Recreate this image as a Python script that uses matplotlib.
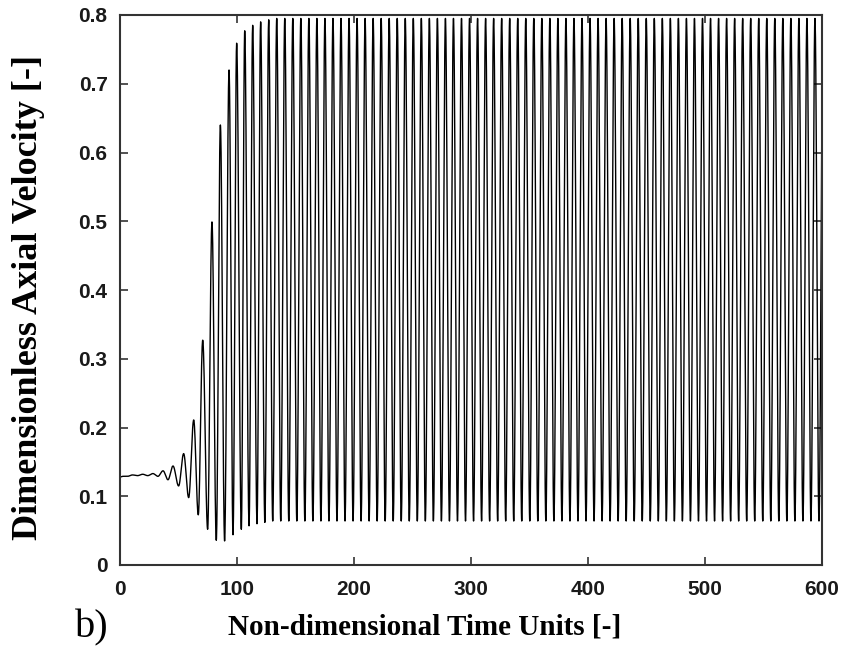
import numpy as np
import matplotlib
matplotlib.use("Agg")
import matplotlib.pyplot as plt

# ---- data ----
# early extrema (time, value) of the transient, alternating trough/peak
trough_t = [0.0, 6.4, 15.0, 23.7, 32.4, 41.0, 50.1, 58.7, 66.9, 74.9, 82.3, 89.4, 96.6, 103.7, 110.3, 117.1, 123.8]
trough_v = [0.128, 0.129, 0.130, 0.130, 0.129, 0.124, 0.115, 0.098, 0.073, 0.052, 0.036, 0.035, 0.044, 0.052, 0.057, 0.060, 0.062]
peak_t = [2.2, 10.7, 19.4, 28.1, 36.8, 45.3, 54.4, 63.0, 70.7, 78.6, 85.8, 93.2, 99.7, 106.6, 113.4, 120.2, 127.1]
peak_v = [0.129, 0.131, 0.132, 0.133, 0.137, 0.144, 0.162, 0.211, 0.327, 0.499, 0.640, 0.720, 0.759, 0.777, 0.785, 0.790, 0.793]
# limit cycle after the transient
sat_peak = 0.795
sat_trough = 0.064
sat_period = 6.866
t_end = 600.0

x_ticks = [0, 100, 200, 300, 400, 500, 600]
y_ticks = [0, 0.1, 0.2, 0.3, 0.4, 0.5, 0.6, 0.7, 0.8]

# ---- build the extrema sequence ----
ext_t, ext_v = [], []
for i in range(len(peak_t)):
    ext_t += [trough_t[i], peak_t[i]]
    ext_v += [trough_v[i], peak_v[i]]
t = peak_t[-1]
while True:
    t_tr = t + sat_period / 2
    if t_tr > t_end + sat_period:
        break
    ext_t.append(t_tr); ext_v.append(sat_trough)
    t = t + sat_period
    ext_t.append(t); ext_v.append(sat_peak)

tt, vv = [], []
for i in range(len(ext_t) - 1):
    s = np.linspace(0, 1, 24, endpoint=False)
    seg_t = ext_t[i] + (ext_t[i + 1] - ext_t[i]) * s
    seg_v = ext_v[i] + (ext_v[i + 1] - ext_v[i]) * (1 - np.cos(np.pi * s)) / 2
    tt.append(seg_t); vv.append(seg_v)
tt = np.concatenate(tt); vv = np.concatenate(vv)
mask = tt <= t_end
tt, vv = tt[mask], vv[mask]

# ---- plot ----
W, H = 843, 646
fig = plt.figure(figsize=(W / 100, H / 100), dpi=100)
ax = fig.add_axes([120 / W, 1 - 565 / H, (822 - 120) / W, (565 - 15) / H])
ax.plot(tt, vv, color="black", linewidth=1.0)
ax.set_xlim(0, 600)
ax.set_ylim(0, 0.8)
ax.set_xticks(x_ticks)
ax.set_yticks(y_ticks)
ax.set_xticklabels([str(v) for v in x_ticks])
ax.set_yticklabels([("%g" % v) for v in y_ticks])
ax.tick_params(direction="in", length=6, width=1.2, color="#333333",
               top=True, right=True, labelsize=15)
ax.tick_params(axis="x", pad=11)
ax.tick_params(axis="y", pad=9)
for lab in ax.get_xticklabels() + ax.get_yticklabels():
    lab.set_fontfamily("Liberation Sans")
    lab.set_fontweight("bold")
    lab.set_color("#1a1a1a")
for sp in ax.spines.values():
    sp.set_linewidth(1.5)
    sp.set_color("#333333")

fig.text(425 / W, 1 - 627 / H, "Non-dimensional Time Units [-]",
         fontfamily="Liberation Serif", fontweight="bold", fontsize=21,
         ha="center", va="center")
fig.text(29 / W, 1 - 298 / H, "Dimensionless Axial Velocity [-]",
         fontfamily="Liberation Serif", fontweight="bold", fontsize=26,
         ha="center", va="center", rotation=90)
fig.text(75 / W, 1 - 637 / H, "b)", fontfamily="Liberation Serif",
         fontsize=29, ha="left", va="baseline")

fig.savefig("out.png", dpi=100)
